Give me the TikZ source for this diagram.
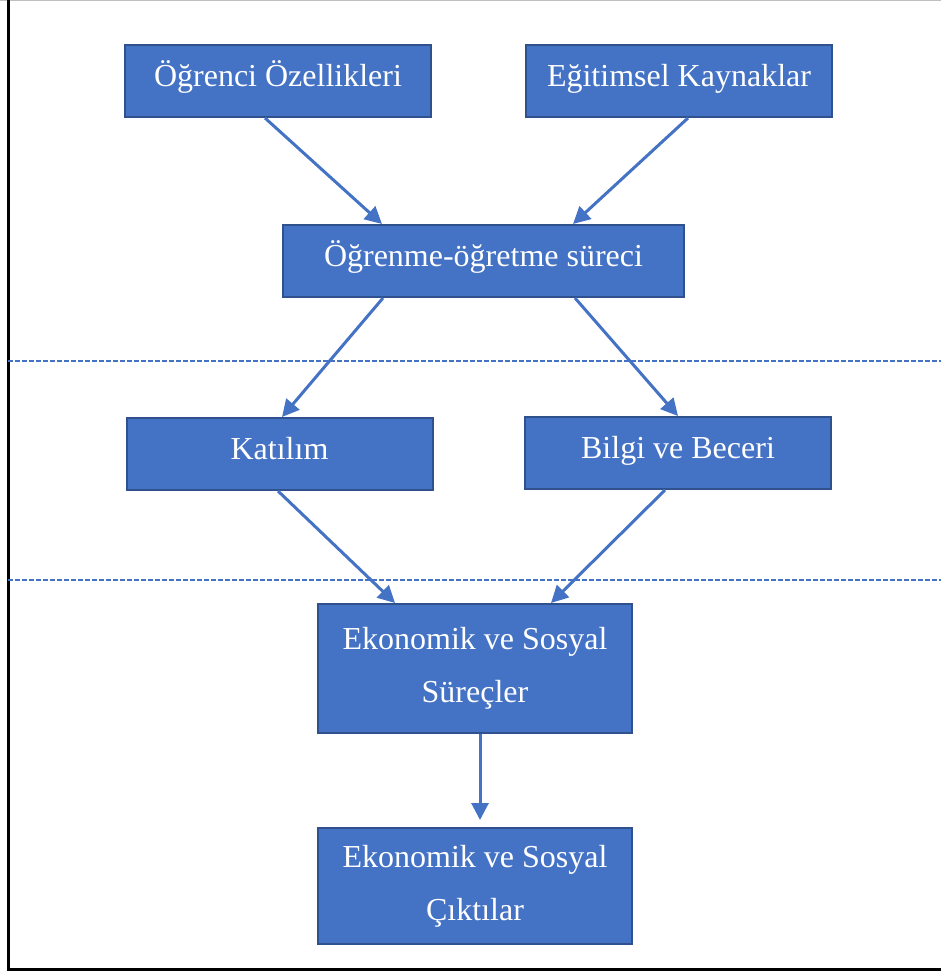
\documentclass[tikz,border=0pt]{standalone}
\usepackage{fontspec}
\setmainfont{Liberation Serif}
\usetikzlibrary{arrows.meta}

\definecolor{kutumavi}{HTML}{4472C4}
\definecolor{kutukenar}{HTML}{2F528F}
\newcommand{\kutufont}{\fontsize{32}{53}\selectfont}
\newcommand{\kn}{\node[rectangle, draw=kutukenar, fill=kutumavi, line width=2pt, text=white, font=\kutufont, align=center, inner sep=0pt, minimum height=72pt, minimum width=306pt]}
\newcommand{\kt}{\kn[text height=22pt, text depth=12pt]}
\newcommand{\Kn}{\kn[minimum width=314pt]}
\newcommand{\ok}{\draw[kutumavi, line width=3pt, -{Triangle[length=17pt,width=17pt]}]}

\begin{document}
\begin{tikzpicture}[x=1pt, y=-1pt]
            \useasboundingbox (0,0) rectangle (941,974);

            % cerceve
            \draw[black!25, line width=1pt] (0,0.5) -- (941,0.5);
            \draw[black, line width=3pt] (8,-2) -- (8,969) -- (945,969);

            % kesikli ayiricilar
            \draw[kutumavi, line width=1.3pt, dash pattern=on 5pt off 2pt] (8,361) -- (941,361);
            \draw[kutumavi, line width=1.3pt, dash pattern=on 5pt off 2pt] (8,580) -- (941,580);

            \kt (ogr) at (278, 81) {Öğrenci Özellikleri};
            \kt (kay) at (679, 81) {Eğitimsel Kaynaklar};
            \kt[minimum width=401pt] (sur) at (483.5, 261) {Öğrenme-öğretme süreci};
            \kt (kat) at (279.5, 454) {Katılım};
            \kt (bil) at (678, 453) {Bilgi ve Beceri};
            \Kn[minimum height=129pt] (esr) at (475, 668.5) {Ekonomik ve Sosyal\\Süreçler};
            \Kn[minimum height=116pt] (eck) at (475, 886) {Ekonomik ve Sosyal\\Çıktılar};

            \ok ([xshift=-13pt]ogr.south) -- ([xshift=-101.5pt]sur.north);
            \ok ([xshift=9pt]kay.south) -- ([xshift=89.5pt]sur.north);
            \ok ([xshift=-100.5pt]sur.south) -- ([xshift=2.5pt]kat.north);
            \ok ([xshift=91.5pt]sur.south) -- (bil.north);
            \ok ([xshift=-1.5pt]kat.south) -- ([xshift=-80pt]esr.north);
            \ok ([xshift=-13pt]bil.south) -- ([xshift=76pt]esr.north);
            \ok[shorten >=7pt] ([xshift=5pt]esr.south) -- ([xshift=5pt]eck.north);
        \end{tikzpicture}
\end{document}
